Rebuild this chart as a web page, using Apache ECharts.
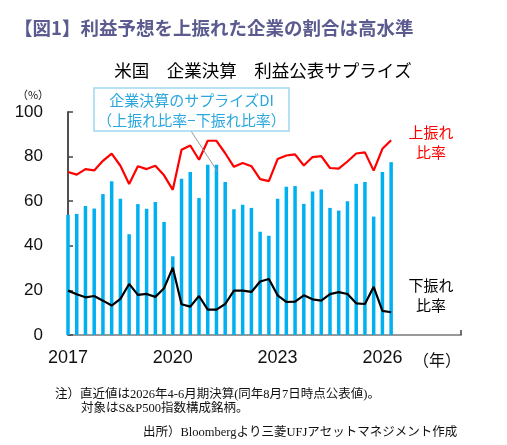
<!DOCTYPE html>
<html>
<head>
<meta charset="utf-8">
<script src="https://cdn.jsdelivr.net/npm/echarts@6/dist/echarts.min.js"></script>
<style>
  html, body { margin: 0; padding: 0; background: #fff; }
  #chart { width: 507px; height: 445px; }
</style>
</head>
<body>
<div id="chart"></div>
<script>
// quarters from 2017 Q1 to 2026 Q2
const quarters = [
    '2017Q1','2017Q2','2017Q3','2017Q4','2018Q1','2018Q2','2018Q3','2018Q4',
    '2019Q1','2019Q2','2019Q3','2019Q4','2020Q1','2020Q2','2020Q3','2020Q4',
    '2021Q1','2021Q2','2021Q3','2021Q4','2022Q1','2022Q2','2022Q3','2022Q4',
    '2023Q1','2023Q2','2023Q3','2023Q4','2024Q1','2024Q2','2024Q3','2024Q4',
    '2025Q1','2025Q2','2025Q3','2025Q4','2026Q1','2026Q2'
];

// 上振れ比率 (%)
const upside = [
    73.1, 71.9, 74.4, 73.8, 78.1, 81.3, 75.9, 67.7, 75.7, 74.4,
    75.9, 71.6, 65.1, 83.1, 85.0, 78.6, 87.1, 87.1, 81.5,
    75.4, 77.1, 75.7, 69.9, 69.0, 78.9, 80.5, 81.0, 76.0,
    79.8, 80.2, 74.9, 74.6, 77.8, 81.4, 81.9, 73.7, 83.5, 87.3
];

// 下振れ比率 (%)
const downside = [
    19.9, 18.3, 16.9, 17.5, 15.4, 13.2, 16.2, 22.9, 18.0, 18.4,
    17.1, 21.0, 30.2, 13.8, 12.7, 17.5, 11.4, 11.4, 13.9,
    19.9, 19.9, 19.3, 24.0, 25.1, 17.8, 14.8, 15.0, 17.8,
    16.0, 15.4, 18.3, 19.2, 18.4, 14.2, 13.9, 21.6, 10.8, 10.2
];

// サプライズDI (上振れ比率-下振れ比率)
const surpriseDI = [
    53.9, 54.3, 57.9, 56.7, 63.2, 68.9, 61.1, 45.2, 58.7, 56.6,
    59.6, 50.7, 35.3, 70.1, 73.1, 61.4, 76.3, 76.3, 68.6,
    56.4, 58.4, 57.0, 46.3, 44.5, 61.1, 66.5, 66.8, 58.8,
    64.4, 65.3, 57.0, 55.8, 60.0, 67.8, 68.6, 53.1, 73.1, 77.5
];

const yearLabels = ['2017', '2020', '2023', '2026'];

const sansFont = "'Liberation Sans', 'Noto Sans CJK JP', sans-serif";
const cjkFont = "'Noto Sans CJK JP', sans-serif";
const noteFont = "'Liberation Serif', 'Noto Sans CJK JP', serif";

function toPoints(arr) {
    return arr.map((v, i) => [i, v]);
}

const chart = echarts.init(document.getElementById('chart'), null, { renderer: 'canvas' });

const option = {
    animation: false,
    backgroundColor: '#fff',
    grid: { left: 68, top: 112, right: 46, bottom: 110 },
    xAxis: [{
        type: 'value',
        min: 0,
        max: 45,
        interval: 12,
        axisLine: { show: true, onZero: false, lineStyle: { color: '#444', width: 1.5 } },
        axisTick: { show: true, inside: true, length: 5, lineStyle: { color: '#444', width: 1.5 } },
        axisLabel: {
            margin: 14,
            fontSize: 18,
            color: '#111',
            fontFamily: sansFont,
            formatter: v => (v % 12 === 0 && yearLabels[v / 12]) ? yearLabels[v / 12] : ''
        },
        splitLine: { show: false }
    }, {
        type: 'value',
        position: 'top',
        min: 0,
        max: 45,
        axisLine: { show: true, lineStyle: { color: '#a6a6a6', width: 1.5 } },
        axisTick: { show: false },
        axisLabel: { show: false },
        splitLine: { show: false }
    }],
    yAxis: [{
        type: 'value',
        min: 0,
        max: 100,
        interval: 20,
        axisLine: { show: true, lineStyle: { color: '#444', width: 1.5 } },
        axisTick: { show: true, inside: true, length: 5, lineStyle: { color: '#444', width: 1.5 } },
        axisLabel: { margin: 25, fontSize: 17, color: '#111', fontFamily: sansFont },
        splitLine: { show: false }
    }, {
        type: 'value',
        position: 'right',
        min: 0,
        max: 100,
        axisLine: { show: true, lineStyle: { color: '#444', width: 1.5 } },
        axisTick: { show: false },
        axisLabel: { show: false },
        splitLine: { show: false }
    }],
    series: [{
        name: 'サプライズDI',
        type: 'bar',
        barWidth: 3.5,
        itemStyle: { color: '#00b0f0' },
        data: toPoints(surpriseDI),
        z: 2
    }, {
        name: '上振れ比率',
        type: 'line',
        symbol: 'none',
        lineStyle: { color: '#ff0000', width: 2.2 },
        data: toPoints(upside),
        z: 3
    }, {
        name: '下振れ比率',
        type: 'line',
        symbol: 'none',
        lineStyle: { color: '#000', width: 2.2 },
        data: toPoints(downside),
        z: 3
    }]
};

chart.setOption(option);

// leader line from the DI box to a bar
const leaderEnd = chart.convertToPixel({ xAxisIndex: 0, yAxisIndex: 0 }, [17, surpriseDI[17] - 3]);

chart.setOption({
    graphic: [
        {
            type: 'text', left: 14, top: 19, z: 10,
            style: {
                text: '【図1】利益予想を上振れた企業の割合は高水準',
                font: "bold 18.5px " + cjkFont, fill: '#5b5b8f'
            }
        },
        {
            type: 'text', x: 263, y: 70, z: 10,
            style: {
                text: '米国　企業決算　利益公表サプライズ',
                font: "17.5px " + cjkFont, fill: '#000',
                textAlign: 'center', textVerticalAlign: 'middle'
            }
        },
        {
            type: 'text', x: 33, y: 95, z: 10,
            style: {
                text: '（%）', font: "11px " + cjkFont, fill: '#111',
                textAlign: 'center', textVerticalAlign: 'middle'
            }
        },
        {
            type: 'line', z: 9,
            shape: { x1: 191, y1: 131, x2: leaderEnd[0] + 1, y2: leaderEnd[1] },
            style: { stroke: '#999', lineWidth: 1 }
        },
        {
            type: 'rect', z: 10,
            shape: { x: 94, y: 88, width: 195, height: 43 },
            style: { fill: '#fff', stroke: '#9fd8f2', lineWidth: 1.5 }
        },
        {
            type: 'text', x: 191.5, y: 100, z: 11,
            style: {
                text: '企業決算のサプライズDI', font: "15px " + cjkFont, fill: '#2aa7df',
                textAlign: 'center', textVerticalAlign: 'middle'
            }
        },
        {
            type: 'text', x: 191.5, y: 120, z: 11,
            style: {
                text: '（上振れ比率−下振れ比率）', font: "15px " + cjkFont, fill: '#2aa7df',
                textAlign: 'center', textVerticalAlign: 'middle'
            }
        },
        {
            type: 'text', x: 431, y: 142, z: 10,
            style: {
                text: '上振れ\n比率', font: "15px " + cjkFont, fill: '#ff0000',
                textAlign: 'center', textVerticalAlign: 'middle', lineHeight: 20
            }
        },
        {
            type: 'text', x: 431, y: 295, z: 10,
            style: {
                text: '下振れ\n比率', font: "15px " + cjkFont, fill: '#000',
                textAlign: 'center', textVerticalAlign: 'middle', lineHeight: 20
            }
        },
        {
            type: 'text', x: 437, y: 360, z: 10,
            style: {
                text: '（年）', font: "16px " + cjkFont, fill: '#111',
                textAlign: 'center', textVerticalAlign: 'middle'
            }
        },
        {
            type: 'text', x: 55, y: 395, z: 10,
            style: {
                text: '注）直近値は2026年4-6月期決算(同年8月7日時点公表値)。',
                font: "12.5px " + noteFont, fill: '#111', textVerticalAlign: 'middle'
            }
        },
        {
            type: 'text', x: 81, y: 409, z: 10,
            style: {
                text: '対象はS&P500指数構成銘柄。',
                font: "12.5px " + noteFont, fill: '#111', textVerticalAlign: 'middle'
            }
        },
        {
            type: 'text', x: 143, y: 433, z: 10,
            style: {
                text: '出所）Bloombergより三菱UFJアセットマネジメント作成',
                font: "12.5px " + noteFont, fill: '#111', textVerticalAlign: 'middle'
            }
        }
    ]
});
</script>
</body>
</html>
